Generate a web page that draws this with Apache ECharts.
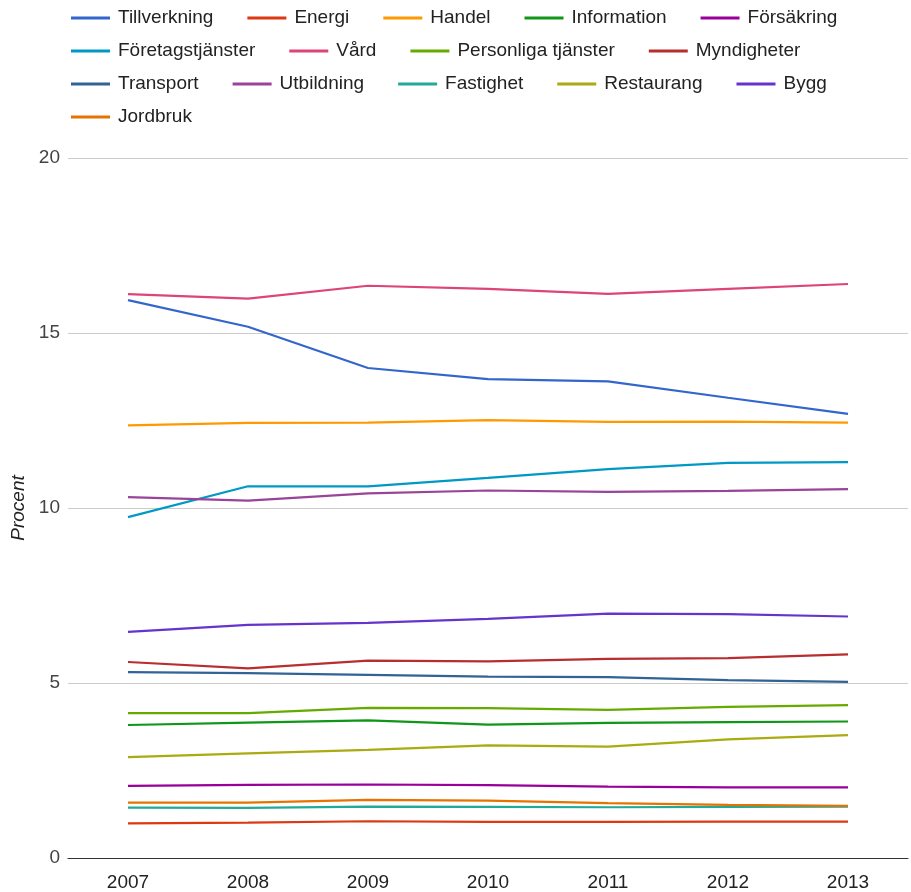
<!DOCTYPE html>
<html>
<head>
<meta charset="utf-8">
<script src="https://cdn.jsdelivr.net/npm/echarts@6/dist/echarts.min.js"></script>
<style>html,body{margin:0;padding:0;background:#fff}#c{width:911px;height:892px}</style>
</head>
<body>
<div id="c"></div>
<script>
const years = ['2007','2008','2009','2010','2011','2012','2013'];
const names = ['Tillverkning','Energi','Handel','Information','Försäkring','Företagstjänster','Vård','Personliga tjänster','Myndigheter','Transport','Utbildning','Fastighet','Restaurang','Bygg','Jordbruk'];
const colors = ['#3366cc','#dc3912','#ff9900','#109618','#990099','#0099c6','#dd4477','#66aa00','#b82e2e','#316395','#994499','#22aa99','#aaaa11','#6633cc','#e67300'];

const tillverkning = [15.94, 15.18, 14.00, 13.68, 13.62, 13.15, 12.69];
const energi = [0.99, 1.01, 1.05, 1.03, 1.03, 1.04, 1.04];
const handel = [12.36, 12.43, 12.44, 12.51, 12.46, 12.47, 12.44];
const information = [3.80, 3.87, 3.93, 3.81, 3.86, 3.88, 3.90];
const forsakring = [2.06, 2.09, 2.10, 2.08, 2.04, 2.02, 2.02];
const foretagstjanster = [9.74, 10.62, 10.62, 10.86, 11.11, 11.29, 11.31];
const vard = [16.11, 15.98, 16.35, 16.26, 16.12, 16.26, 16.40];
const personliga = [4.14, 4.14, 4.29, 4.28, 4.23, 4.32, 4.37];
const myndigheter = [5.60, 5.42, 5.64, 5.62, 5.69, 5.71, 5.82];
const transport = [5.31, 5.28, 5.23, 5.18, 5.17, 5.08, 5.03];
const utbildning = [10.31, 10.21, 10.42, 10.50, 10.46, 10.49, 10.54];
const fastighet = [1.44, 1.43, 1.47, 1.46, 1.45, 1.46, 1.47];
const restaurang = [2.88, 2.99, 3.09, 3.22, 3.18, 3.39, 3.51];
const bygg = [6.46, 6.66, 6.72, 6.83, 6.98, 6.97, 6.90];
const jordbruk = [1.58, 1.58, 1.66, 1.64, 1.57, 1.52, 1.49];

const yTicks = [0, 5, 10, 15, 20];

const allData = [tillverkning, energi, handel, information, forsakring, foretagstjanster, vard, personliga, myndigheter, transport, utbildning, fastighet, restaurang, bygg, jordbruk];

const FONT = '"Liberation Sans", Arial, sans-serif';

const chart = echarts.init(document.getElementById('c'), null, {renderer: 'canvas'});
chart.setOption({
  animation: false,
  color: colors,
  textStyle: {fontFamily: FONT},
  legend: {
    type: 'plain',
    left: 66,
    top: 3,
    width: 840,
    itemWidth: 39,
    itemHeight: 14,
    itemGap: 13,
    icon: 'path://M0,5.5 L39,5.5 L39,8.5 L0,8.5 Z',
    textStyle: {fontSize: 19, lineHeight: 20, color: '#222', fontFamily: FONT, padding: [0, 21, 0, 3]},
    data: names
  },
  grid: {left: 68, right: 3, top: 158, bottom: 34, containLabel: false},
  xAxis: {
    type: 'category',
    data: years,
    boundaryGap: true,
    axisLine: {lineStyle: {color: '#333', width: 1}},
    axisTick: {show: false},
    axisLabel: {fontSize: 19, color: '#222', margin: 15, fontFamily: FONT}
  },
  yAxis: {
    type: 'value',
    min: yTicks[0],
    max: yTicks[yTicks.length - 1],
    interval: 5,
    name: 'Procent',
    nameLocation: 'middle',
    nameGap: 35,
    nameTextStyle: {fontSize: 19, fontStyle: 'italic', color: '#222', fontFamily: FONT},
    axisLine: {show: false},
    axisTick: {show: false},
    splitLine: {lineStyle: {color: '#cccccc', width: 1}},
    axisLabel: {fontSize: 19, color: '#444', margin: 8, fontFamily: FONT}
  },
  series: names.map((n, i) => ({
    name: n,
    type: 'line',
    data: allData[i],
    showSymbol: false,
    symbol: 'none',
    lineStyle: {width: 2.2, color: colors[i]},
    itemStyle: {color: colors[i]}
  }))
});
</script>
</body>
</html>
